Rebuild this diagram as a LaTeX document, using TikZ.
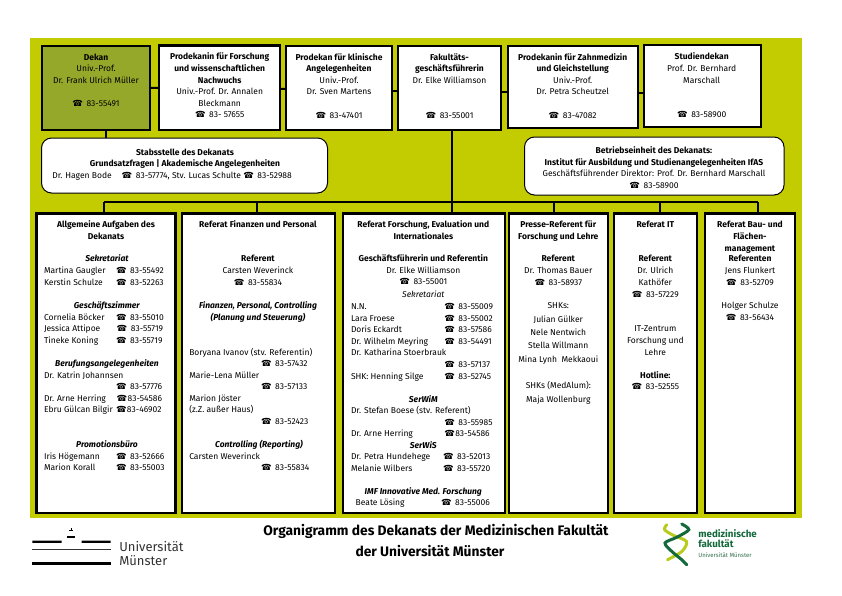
\documentclass[tikz,border=0pt]{standalone}
\usepackage{fontspec}
\setmainfont{Fira Sans}
\newfontfamily\phonefont{DejaVu Sans}
\definecolor{limebg}{HTML}{C3CC00}
\definecolor{dekanfill}{HTML}{95A82A}
\definecolor{helixdark}{HTML}{13693A}
\definecolor{helixlime}{HTML}{B9CB1E}
\definecolor{logogray}{HTML}{333333}
\newdimen\bxX \newdimen\bxT \newdimen\bxW \newdimen\bxH
\newcommand\Ph{{\phonefont\fontsize{8.5}{9}\selectfont ☎}}
\newcommand\At[3]{\vbox to 0pt{\kern\dimexpr#2pt-\bxT\relax\hbox to\bxW{\kern\dimexpr#1pt-\bxX\relax\smash{#3}\hss}\vss}}
\newcommand\Ct[3]{\vbox to 0pt{\kern\dimexpr#2pt-\bxT\relax\hbox to\bxW{\kern\dimexpr#1pt-\bxX\relax\hbox to 0pt{\hss\smash{#3}\hss}\hss}\vss}}
\newcommand\Pn[3]{\At{#1}{#2}{\Ph\kern3.6pt #3}}
\newcommand\Pz[3]{\At{#1}{#2}{\Ph\kern0.4pt #3}}
\newcommand\Cp[3]{\Ct{#1}{#2}{\Ph\kern3.6pt #3}}
\newcommand\B[1]{\textbf{#1}}
\newcommand\BI[1]{\textbf{\textit{#1}}}
\newcommand\orgbox[7][]{%
  \bxX=#3pt \bxT=#4pt \bxW=\dimexpr#5pt-#3pt\relax \bxH=\dimexpr#6pt-#4pt\relax
  \node[orgb,#1,anchor=north west] (#2) at (#3,#4)
    {\vbox to\bxH{\offinterlineskip\hsize=\bxW #7\vss}};}
\tikzset{
  orgb/.style={draw=black,fill=white,line width=2.2pt,inner sep=0pt,outer sep=0pt,
    font=\fontsize{8.5}{10}\selectfont},
  roundb/.style={line width=1pt,rounded corners=10pt},
  link/.style={draw=black,line width=2pt},
  logotext/.style={inner sep=0pt,outer sep=0pt,anchor=base west}
}
\begin{document}
\begin{tikzpicture}[x=1pt,y=-1pt]
\useasboundingbox (0,0) rectangle (842,595);
\fill[limebg] (30,38) rectangle (801.5,517.5);
% top row
\orgbox[fill=dekanfill]{dekan}{42}{46}{150}{130}{%
 \Ct{96}{60.3}{\B{Dekan}}\Ct{96}{71.5}{Univ.-Prof.}\Ct{96}{83.3}{Dr. Frank Ulrich Müller}
 \Cp{96}{106}{83-55491}}
\orgbox{prodF}{159.3}{45.5}{280}{130}{%
 \Ct{219.7}{59.3}{\B{Prodekanin für Forschung}}\Ct{219.7}{71.3}{\B{und wissenschaftlichen}}
 \Ct{219.7}{83.3}{\B{Nachwuchs}}\Ct{219.7}{94.7}{Univ.-Prof. Dr. Annalen}
 \Ct{219.7}{106.3}{Bleckmann}\Cp{219.7}{117.3}{83- 57655}}
\orgbox{prodK}{286}{46}{392}{130}{%
 \Ct{339}{60.3}{\B{Prodekan für klinische}}\Ct{339}{71.3}{\B{Angelegenheiten}}
 \Ct{339}{83.3}{Univ.-Prof.}\Ct{339}{94.3}{Dr. Sven Martens}\Cp{339}{118.3}{83-47401}}
\orgbox{fak}{398.3}{46}{501}{130}{%
 \Ct{449.5}{60.3}{\B{Fakultäts-}}\Ct{449.5}{71.3}{\B{geschäftsführerin}}
 \Ct{449.5}{83.3}{Dr. Elke Williamson}\Cp{449.5}{118.3}{83-55001}}
\orgbox{prodZ}{508.3}{46}{638}{128}{%
 \Ct{572.7}{60.3}{\B{Prodekanin für Zahnmedizin}}\Ct{572.7}{71.3}{\B{und Gleichstellung}}
 \Ct{572.7}{83.3}{Univ.-Prof.}\Ct{572.7}{94.3}{Dr. Petra Scheutzel}\Cp{572.7}{118.3}{83-47082}}
\orgbox{stud}{644}{45}{761}{127}{%
 \Ct{701.7}{59.3}{\B{Studiendekan}}\Ct{701.7}{71.3}{Prof. Dr. Bernhard}
 \Ct{701.7}{83.3}{Marschall}\Cp{701.7}{117.3}{83-58900}}
% rounded units
\orgbox[roundb]{stabs}{41.5}{138}{327.5}{193}{%
 \Ct{185}{155.3}{\B{Stabsstelle des Dekanats}}
 \Ct{185}{166.3}{\B{Grundsatzfragen | Akademische Angelegenheiten}}
 \At{52.3}{178.3}{Dr. Hagen Bode}\Pn{121.7}{178.3}{83-57774, Stv. Lucas Schulte \Ph\kern3.6pt 83-52988}}
\orgbox[roundb]{betrieb}{524.5}{137}{784}{195}{%
 \Ct{654}{153.3}{\B{Betriebseinheit des Dekanats:}}
 \Ct{654}{165.3}{\B{Institut für Ausbildung und Studienangelegenheiten IfAS}}
 \Ct{654}{176.3}{Geschäftsführender Direktor: Prof. Dr. Bernhard Marschall}
 \Cp{654}{188.3}{83-58900}}
% lower row
\orgbox{allg}{36.5}{213.5}{175.5}{513}{%
 \Ct{106}{227.3}{\B{Allgemeine Aufgaben des}}\Ct{106}{239.3}{\B{Dekanats}}
 \Ct{107}{261}{\BI{Sekretariat}}
 \At{44}{273}{Martina Gaugler}\Pn{116}{273}{83-55492}
 \At{44}{285}{Kerstin Schulze}\Pn{116}{285}{83-52263}
 \Ct{107}{308}{\BI{Geschäftszimmer}}
 \At{44}{320}{Cornelia Böcker}\Pn{116}{320}{83-55010}
 \At{44}{331.3}{Jessica Attipoe}\Pn{116.7}{331.3}{83-55719}
 \At{44}{343.3}{Tineke Koning}\Pn{116}{343.3}{83-55719}
 \Ct{107}{366.3}{\BI{Berufungsangelegenheiten}}
 \At{44}{378}{Dr. Katrin Johannsen}\Pn{116}{389.3}{83-57776}
 \At{44}{401.3}{Dr. Arne Herring}\Pz{116.7}{401.3}{83-54586}
 \At{44}{412.3}{Ebru Gülcan Bilgir}\Pz{116}{412.3}{83-46902}
 \Ct{107}{447}{\BI{Promotionsbüro}}
 \At{44}{459}{Iris Högemann}\Pn{116}{459}{83-52666}
 \At{44}{470}{Marion Korall}\Pn{116}{470}{83-55003}}
\orgbox{fin}{181.7}{213.5}{335}{513}{%
 \Ct{258}{227.3}{\B{Referat Finanzen und Personal}}
 \Ct{258}{261}{\B{Referent}}\Ct{258}{273}{Carsten Weverinck}\Cp{258}{285}{83-55834}
 \Ct{258}{308}{\BI{Finanzen, Personal, Controlling}}\Ct{258}{320}{\BI{(Planung und Steuerung)}}
 \At{189.3}{355}{Boryana Ivanov (stv. Referentin)}\Pn{261}{366.3}{83-57432}
 \At{189.3}{378}{Marie-Lena Müller}\Pn{261}{389.3}{83-57133}
 \At{189.3}{401.3}{Marion Jöster}\At{189.3}{412.3}{(z.Z. außer Haus)}\Pn{261}{424}{83-52423}
 \Ct{259}{447}{\BI{Controlling (Reporting)}}
 \At{189.3}{459}{Carsten Weverinck}\Pn{261}{470}{83-55834}}
\orgbox{forsch}{343.3}{213.5}{504.7}{513}{%
 \Ct{423.3}{227.3}{\B{Referat Forschung, Evaluation und}}\Ct{423.3}{239.3}{\B{Internationales}}
 \Ct{423.3}{261}{\B{Geschäftsführerin und Referentin}}\Ct{423.3}{273}{Dr. Elke Williamson}
 \Cp{423.3}{284.6}{83-55001}\Ct{423.3}{297}{\textit{Sekretariat}}
 \At{351}{309}{N.N.}\Pn{444.3}{309}{83-55009}
 \At{351}{321}{Lara Froese}\Pn{444.3}{321}{83-55002}
 \At{351}{332}{Doris Eckardt}\Pn{444.3}{332}{83-57586}
 \At{351}{344}{Dr. Wilhelm Meyring}\Pn{444.3}{344}{83-54491}
 \At{351}{355}{Dr. Katharina Stoerbrauk}\Pn{444.3}{367}{83-57137}
 \At{351}{379}{SHK: Henning Silge}\Pn{444.3}{379}{83-52745}
 \Ct{423.3}{402.7}{\BI{SerWiM}}
 \At{351}{413.3}{Dr. Stefan Boese (stv. Referent)}\Pn{444.3}{425}{83-55985}
 \At{351}{436.7}{Dr. Arne Herring}\Pz{444.3}{436.7}{83-54586}
 \Ct{423.3}{448.3}{\BI{SerWiS}}
 \At{351}{459.3}{Dr. Petra Hundehege}\Pn{443}{459.3}{83-52013}
 \At{351}{471}{Melanie Wilbers}\Pn{443}{471}{83-55720}
 \Ct{423.3}{494}{\BI{IMF Innovative Med. Forschung}}
 \At{355.7}{505.7}{Beate Lösing}\Pn{441}{505.7}{83-55006}}
\orgbox{presse}{509.3}{213.5}{608.3}{513}{%
 \Ct{558.3}{227.3}{\B{Presse-Referent für}}\Ct{558.3}{239.3}{\B{Forschung und Lehre}}
 \Ct{558.3}{261}{\B{Referent}}\Ct{558.3}{273}{Dr. Thomas Bauer}\Cp{558.3}{285}{83-58937}
 \Ct{558.3}{308}{SHKs:}\Ct{558.3}{322}{Julian Gülker}\Ct{558.3}{335}{Nele Nentwich}
 \Ct{558.3}{348}{Stella Willmann}\Ct{558.3}{362}{Mina Lynh\ \ Mekkaoui}
 \Ct{558.3}{388}{SHKs (MedAlum):}\Ct{558.3}{402}{Maja Wollenburg}}
\orgbox{itref}{614.3}{213.5}{697.3}{513}{%
 \Ct{655.3}{227.3}{\B{Referat IT}}\Ct{655.3}{261}{\B{Referent}}
 \Ct{655.3}{273}{Dr. Ulrich}\Ct{655.3}{285}{Kathöfer}\Cp{655.3}{297}{83-57229}
 \Ct{655.3}{331}{IT-Zentrum}\Ct{655.3}{343}{Forschung und}\Ct{655.3}{355}{Lehre}
 \Ct{655.3}{378}{\B{Hotline:}}\Cp{655.3}{389}{83-52555}}
\orgbox{bau}{705}{213.5}{795}{513}{%
 \Ct{750}{227.3}{\B{Referat Bau- und}}\Ct{750}{239.3}{\B{Flächen-}}
 \Ct{750}{251.3}{\B{management}}\Ct{750}{261}{\B{Referenten}}
 \Ct{750}{273}{Jens Flunkert}\Cp{750}{285}{83-52709}
 \Ct{750}{308}{Holger Schulze}\Cp{750}{320}{83-56434}}
% connectors
\coordinate (bus) at (451.7,202.3);
\draw[link] (dekan.east) -- (prodF.west);
\draw[link] ([yshift=-1pt]prodF.east) -- ([yshift=-1pt]prodK.west);
\draw[link] ([yshift=-2.7pt]prodK.east) -- ([yshift=-2.7pt]fak.west);
\draw[link] ([yshift=-3.7pt]fak.east) -- ([yshift=-4.7pt]prodZ.west);
\draw[link] ([yshift=-6pt]prodZ.east) -- ([yshift=-7pt]stud.west);
\draw[link] ([xshift=9.7pt]dekan.south) -- ([xshift=9.7pt]dekan.south |- stabs.north);
\draw[link] ([xshift=2.05pt]fak.south) -- ([xshift=2.05pt]fak.south |- forsch.north);
\draw[link] ([xshift=-2pt]allg.north |- bus) -- ([xshift=7.7pt]bau.north |- bus);
\draw[link] ([xshift=-2pt]allg.north) -- ([xshift=-2pt]allg.north |- bus);
\draw[link] ([xshift=-1.65pt]fin.north) -- ([xshift=-1.65pt]fin.north |- bus);
\draw[link] ([xshift=-4.5pt]presse.north) -- ([xshift=-4.5pt]presse.north |- bus);
\draw[link] ([xshift=4.2pt]itref.north) -- ([xshift=4.2pt]itref.north |- bus);
\draw[link] ([xshift=7.7pt]bau.north) -- ([xshift=7.7pt]bau.north |- bus);
% title
\node[inner sep=0pt,anchor=base,font=\fontsize{13.8}{15}\selectfont\bfseries] (title1) at (436,535) {Organigramm des Dekanats der Medizinischen Fakultät};
\node[inner sep=0pt,anchor=base,font=\fontsize{13.8}{15}\selectfont\bfseries] (title2) at (430,556) {der Universität Münster};
% Universität Münster logo
\fill[black] (32.3,540.6) rectangle (61.7,542.8) (81.7,540.6) rectangle (110.7,542.8);
\fill[black] (32.3,562.2) rectangle (110.7,564.6);
\fill[black] (66.7,535.8) rectangle (75,538);
\fill[black] (68.8,530.2) rectangle (73,531);
\fill[black] (70.5,527.5) rectangle (71.3,530.2);
\fill[logogray] (32.3,549.3) rectangle (110.7,550.1);
\node[logotext,text=logogray,font=\fontsize{13}{14}\selectfont] (umA) at (119.3,551.7) {Universität};
\node[logotext,text=logogray,font=\fontsize{13}{14}\selectfont] (umB) at (119.3,565) {Münster};
% medizinische fakultaet logo
\draw[helixlime,line width=3pt,line cap=round] plot[smooth] coordinates {(666.7,524.7) (664.6,529.7) (673.3,535.3) (686.5,541.5) (682,551.3) (667.5,559.7)};
\draw[helixdark,line width=3pt,line cap=round] plot[smooth] coordinates {(681.7,524) (688.8,529.7) (676.7,537.3) (665,543) (671.7,551.3) (681.7,559.7) (686.7,564.7)};
\node[logotext,text=helixdark,font=\fontsize{9.8}{11}\selectfont\bfseries] (mfA) at (698.3,537.7) {medizinische};
\node[logotext,text=helixdark,font=\fontsize{9.8}{11}\selectfont\bfseries] (mfB) at (698.3,547.7) {fakultät};
\node[logotext,text=helixdark!70!gray,font=\fontsize{6}{7}\selectfont] (mfC) at (698.3,557.3) {Universität Münster};
\end{tikzpicture}
\end{document}
